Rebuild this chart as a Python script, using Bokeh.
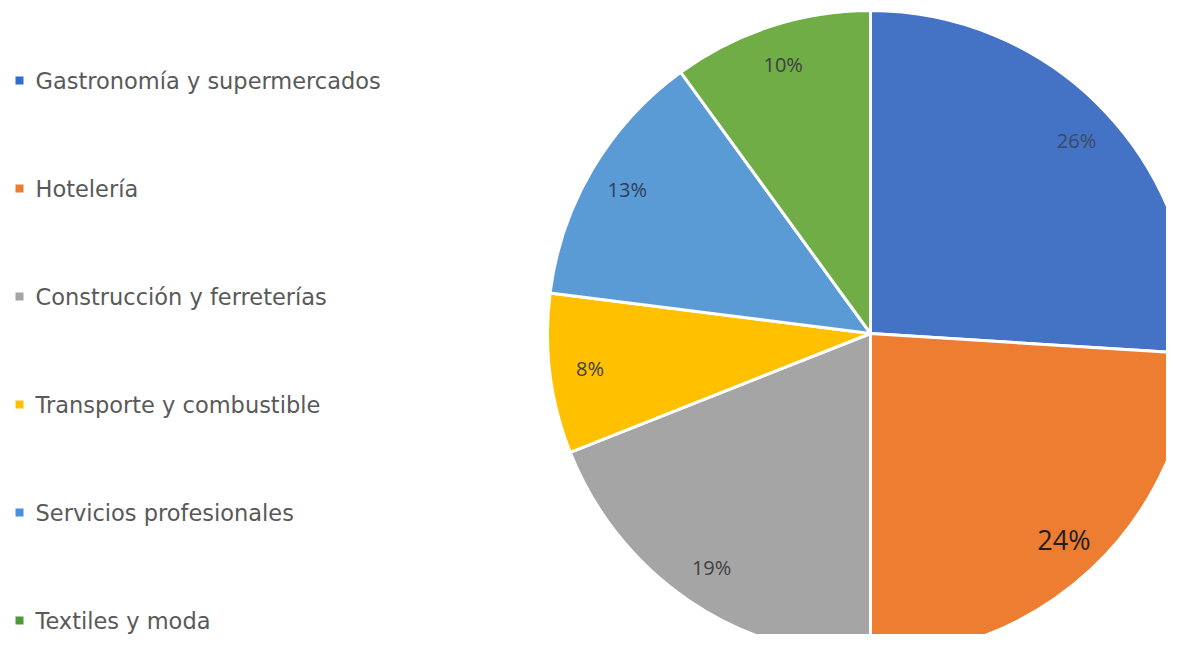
import math
from bokeh.plotting import figure
from bokeh.models import Range1d, ColumnDataSource
from bokeh.core.properties import value
from bokeh.embed import file_html
from bokeh.resources import INLINE

categories = ["Gastronomía y supermercados", "Hotelería", "Construcción y ferreterías",
              "Transporte y combustible", "Servicios profesionales", "Textiles y moda"]
percents = [26, 24, 19, 8, 13, 10]
labels = ["26%", "24%", "19%", "8%", "13%", "10%"]
colors = ["#4472C4", "#ED7D31", "#A5A5A5", "#FFC000", "#5B9BD5", "#70AD47"]
legend_colors = ["#2F6ED0", "#ED7D31", "#A5A5A5", "#FFC000", "#4A90E0", "#4E9A3A"]

W, H = 1166, 634
p = figure(width=W, height=H, output_backend="svg", toolbar_location=None,
           x_range=Range1d(0, W), y_range=Range1d(0, H), min_border=0)
p.axis.visible = False
p.grid.visible = False
p.outline_line_color = None
p.background_fill_color = "white"

cx, cy, R = 870, H - 333, 323
total = sum(percents)
starts, ends, mids = [], [], []
a = math.pi / 2
for v in percents:
    span = 2 * math.pi * v / total
    starts.append(a)
    ends.append(a - span)
    mids.append(a - span / 2)
    a -= span

src = ColumnDataSource(dict(start=starts, end=ends, color=colors))
p.wedge(x=cx, y=cy, radius=R, start_angle="start", end_angle="end", direction="clock",
        fill_color="color", line_color="white", line_width=3, source=src)

lr = 0.875 * R
lx = [cx + lr * math.cos(m) for m in mids]
ly = [cy + lr * math.sin(m) for m in mids]
sizes = ["20px", "27px", "20px", "20px", "20px", "20px"]
tcolors = ["#3A4A66", "#1E1E1E", "#404040", "#404040", "#2E3E5A", "#404040"]
lsrc = ColumnDataSource(dict(x=lx, y=ly, t=labels, s=sizes, c=tcolors))
p.text(x="x", y="y", text="t", text_font_size="s", text_color="c", source=lsrc,
       text_align="center", text_baseline="middle", text_font=value("Open Sans"))

# legend
row_y = [H - (80 + 108 * i) for i in range(len(categories))]
p.scatter(x=[19] * len(categories), y=row_y, marker="square", size=8,
          fill_color=legend_colors, line_color=None)
p.text(x=[35] * len(categories), y=row_y, text=categories, text_font_size="22.5px",
       text_color="#595959", text_baseline="middle", text_align="left",
       text_font=value("DejaVu Sans"))

open("out.html", "w").write(file_html(p, INLINE))
